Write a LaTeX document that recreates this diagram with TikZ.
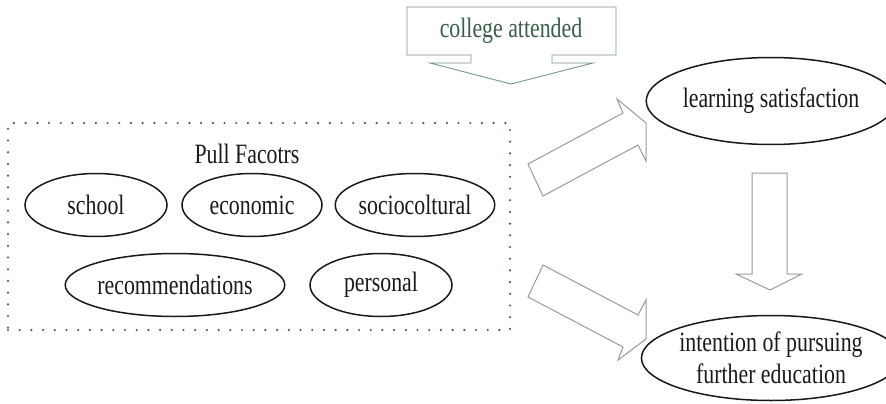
\documentclass[tikz,border=0pt]{standalone}
\usepackage{fontspec}
\setmainfont{Liberation Serif}[FakeStretch=0.78]
\usetikzlibrary{shapes.geometric}

\definecolor{calloutgreen}{HTML}{3A5C4A}
\definecolor{calloutline}{HTML}{7A9484}
\definecolor{dotgreen}{HTML}{3E5A4C}

\begin{document}
\begin{tikzpicture}[
    x=1pt, y=-1pt,
    factor/.style={ellipse, draw=black!90, line width=1.5pt, minimum width=142pt, minimum height=63pt, inner sep=0pt, text=black!90, font=\fontsize{28}{32}\selectfont},
    outcome/.style={factor, minimum width=225pt, minimum height=87pt, align=center},
    blockarrow/.style={draw=black!40, line width=1pt, line join=miter}
]
\useasboundingbox (0,0) rectangle (886,404);

% Callout
\draw[calloutline, line width=0.9pt] (407,7) -- (616,7) -- (616,55) -- (552,55) -- (552,63) -- (593,63)
    -- (511,84) -- (430,63) -- (471,63) -- (471,55) -- (407,55) -- cycle;
\node[text=calloutgreen, font=\fontsize{28}{32}\selectfont] (college) at (511,31) {college attended};

% Pull factors
\node[draw=dotgreen, line width=2.4pt, line cap=round, dash pattern=on 0pt off 11.7pt,
    minimum width=502pt, minimum height=207pt, inner sep=0pt] (pull) at (259,226.5) {};
\node[text=black!90, font=\fontsize{28}{32}\selectfont] (title) at (247,154) {Pull Facotrs};
\node[factor] (school) at (96,205) {school};
\node[factor, minimum width=140pt] (economic) at (252,205) {economic};
\node[factor, minimum width=144pt] (sociocult) at (415,205) {sociocoltural};
\node[factor, minimum width=197pt] (recomm) at (175,285) {recommendations};
\node[factor] (personal) at (381,285) {personal};

% Outcomes
\node[outcome] (satisf) at (771,101) {learning satisfaction};
\node[outcome, minimum height=85pt] (intention) at (771,358) {intention of pursuing\\further education};

% Block arrows
\draw[blockarrow] (528,164) -- (623,113) -- (617,99) -- (646,123) -- (646,161) -- (638,145) -- (543,196) -- cycle;
\draw[blockarrow] (543,265) -- (638,315) -- (646,300) -- (646,339) -- (618,360) -- (623,347) -- (528,297) -- cycle;
\draw[blockarrow] (752,173) -- (787,173) -- (787,274) -- (802,274) -- (770,290) -- (736,274) -- (752,274) -- cycle;

\end{tikzpicture}
\end{document}
